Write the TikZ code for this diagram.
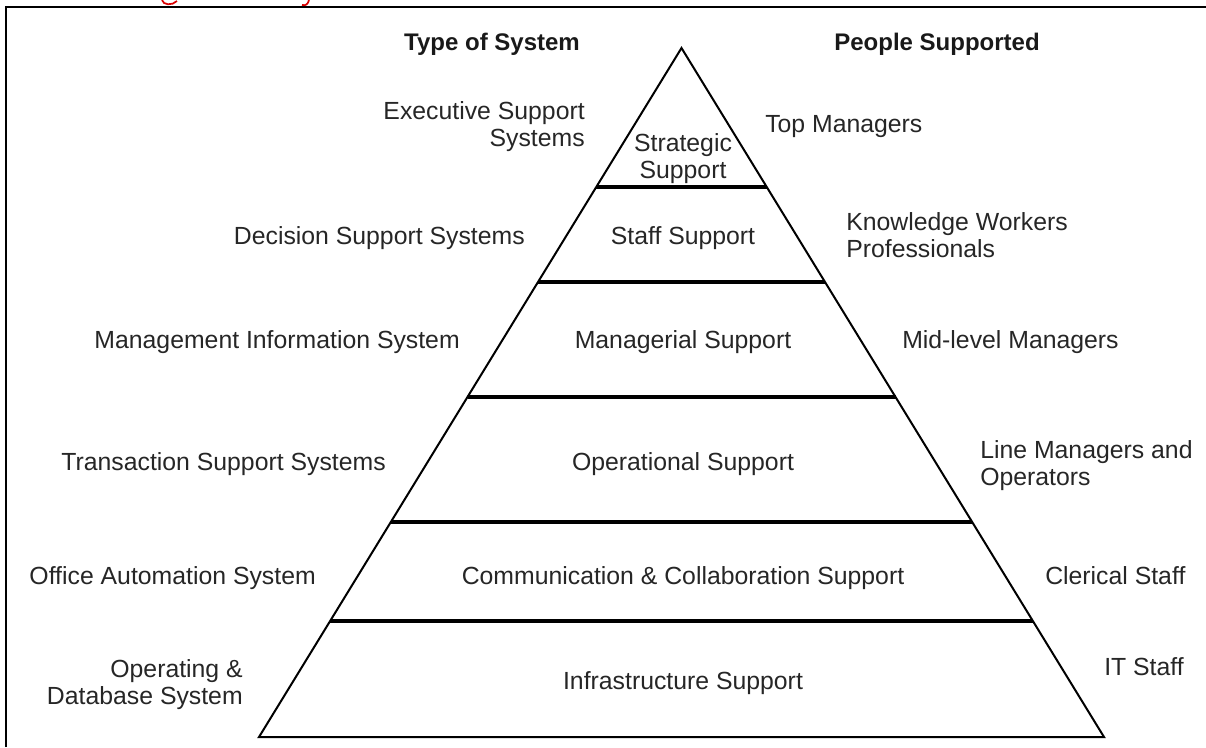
\documentclass[tikz,border=0pt]{standalone}
\usepackage{fontspec}
\setmainfont{Liberation Sans}
\begin{document}
\begin{tikzpicture}[x=0.75pt,y=-0.75pt,
  lbl/.style={font=\fontsize{18.6}{20.25}\selectfont, inner sep=0pt, text=black!85},
  head/.style={font=\fontsize{18}{20.25}\selectfont\bfseries, inner sep=0pt, text=black!90},
  slope/.style={line width=1.5pt, line join=miter},
  divider/.style={line width=2.6pt},
  frame/.style={line width=1.5pt},
  redbit/.style={draw=red!85!black, line width=1.3pt}
]
\useasboundingbox (0,0) rectangle (1206,747);
% cut-off red caption fragments (only descender bits visible)
\path[redbit] (162,0) .. controls (163,5) and (172,6) .. (177,1);
\path[redbit] (309,0) .. controls (308,4) and (306,6) .. (302,5);
% frame
\draw[frame] (6,747) -- (6,7) -- (1206,7);
% pyramid
\coordinate (apex) at (681.5,48);
\coordinate (bl) at (259,737);
\coordinate (br) at (1104,737);
\draw[slope] (bl) -- (apex) -- (br) -- cycle;
\coordinate (d1l) at (596.3,187); \coordinate (d1r) at (766.7,187);
\coordinate (d2l) at (538.0,282); \coordinate (d2r) at (825.0,282);
\coordinate (d3l) at (467.5,397); \coordinate (d3r) at (895.5,397);
\coordinate (d4l) at (390.8,522); \coordinate (d4r) at (972.2,522);
\coordinate (d5l) at (330.1,621); \coordinate (d5r) at (1032.9,621);
\draw[divider] (d1l) -- (d1r);
\draw[divider] (d2l) -- (d2r);
\draw[divider] (d3l) -- (d3r);
\draw[divider] (d4l) -- (d4r);
\draw[divider] (d5l) -- (d5r);
% headings
\node[head, anchor=base] (htype) at (492,50) {Type of System};
\node[head, anchor=base] (hpeople) at (937,50) {People Supported};
% level names
\node[lbl, anchor=north, align=center] (strategic) at (683,133) {Strategic\\Support};
\node[lbl, anchor=base] (staff) at (683,244) {Staff Support};
\node[lbl, anchor=base] (managerial) at (683,348) {Managerial Support};
\node[lbl, anchor=base] (operational) at (683,470) {Operational Support};
\node[lbl, anchor=base] (commcol) at (683,584) {Communication \& Collaboration Support};
\node[lbl, anchor=base] (infra) at (683,689) {Infrastructure Support};
% system types
\node[lbl, anchor=north east, align=right] (ess) at (585,101) {Executive Support\\Systems};
\node[lbl, anchor=base east] (dss) at (525,244) {Decision Support Systems};
\node[lbl, anchor=base east] (mis) at (460,348) {Management Information System};
\node[lbl, anchor=base east] (tss) at (386,470) {Transaction Support Systems};
\node[lbl, anchor=base east] (oas) at (316,584) {Office Automation System};
\node[lbl, anchor=north east, align=right] (ods) at (243,659) {Operating \&\\Database System};
% people
\node[lbl, anchor=base west] (top) at (765,132) {Top Managers};
\node[lbl, anchor=north west, align=left] (know) at (846,212) {Knowledge Workers\\Professionals};
\node[lbl, anchor=base west] (mid) at (902,348) {Mid-level Managers};
\node[lbl, anchor=north west, align=left] (line) at (980,440) {Line Managers and\\Operators};
\node[lbl, anchor=base west] (cler) at (1045,584) {Clerical Staff};
\node[lbl, anchor=base west] (it) at (1104,675) {IT Staff};
\end{tikzpicture}
\end{document}
